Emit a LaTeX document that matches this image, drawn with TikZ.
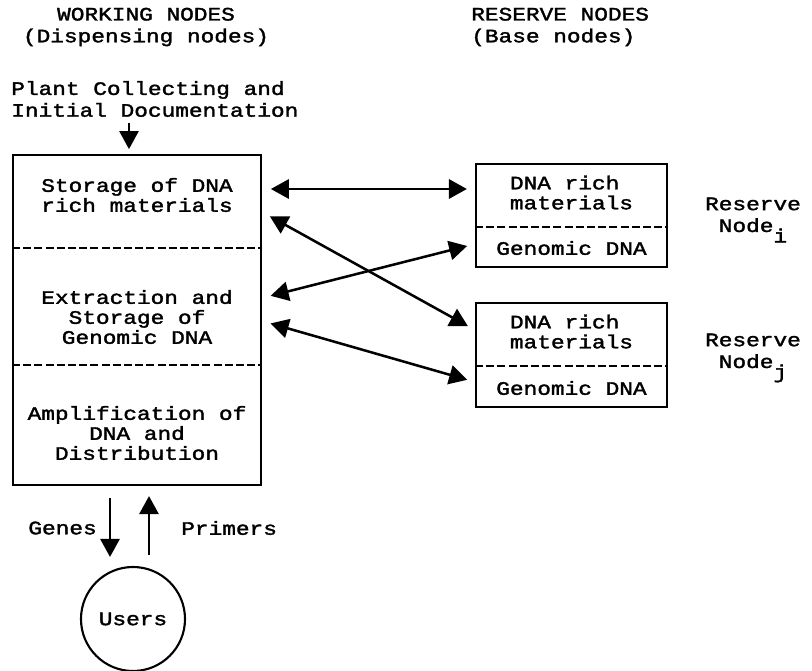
\documentclass[tikz,border=0pt]{standalone}
\usepackage{fontspec}
\setmainfont[FakeStretch=1.2, FakeBold=1.8]{Liberation Mono}
\usetikzlibrary{arrows.meta}

\begin{document}
\begin{tikzpicture}[x=0.025cm, y=-0.025cm, every node/.style={font=\fontsize{13.5}{15.5}\selectfont}]
    % Styles
    \tikzstyle{box} = [rectangle, draw=black, line width=1.5pt]
    \tikzstyle{cell} = [align=center, inner sep=0pt, font=\fontsize{13.5}{14.2}\selectfont]
    \tikzstyle{sep} = [line width=1.1pt, dash pattern=on 0.2cm off 0.08cm]
    \tikzstyle{arrow} = [-{Triangle[length=0.45cm, width=0.48cm]}, line width=1.6pt]
    \tikzstyle{both} = [{Triangle[length=0.45cm, width=0.48cm]}-{Triangle[length=0.45cm, width=0.48cm]}, line width=1.8pt, shorten <=0.22cm, shorten >=0.2cm]

    \useasboundingbox (0,0) rectangle (812,671);

    % Headings
    \node[align=center, inner sep=0pt] (work) at (146,27) {WORKING NODES\\(Dispensing nodes)};
    \node[align=left, anchor=west, inner sep=0pt] (res) at (471,27) {RESERVE NODES\\(Base nodes)};
    \node[align=left, anchor=west, inner sep=0pt] (plant) at (11,99) {Plant Collecting and\\Initial Documentation};

    % Working node
    \node[box, minimum width=6.2cm, minimum height=8.25cm] (main) at (137,320) {};
    \node[cell] (stor) at (137,195) {Storage of DNA\\rich materials};
    \node[cell] (extr) at (137,317) {Extraction and\\Storage of\\Genomic DNA};
    \node[cell] (ampl) at (137,433) {Amplification of\\DNA and\\Distribution};
    \draw[sep] (main.west |- 0,248) -- (main.east |- 0,248);
    \draw[sep] (main.west |- 0,365) -- (main.east |- 0,365);

    % Reserve nodes
    \node[box, minimum width=4.775cm, minimum height=2.575cm] (resi) at (571.5,215.5) {};
    \node[cell, align=left] (resitop) at (571.5,192.5) {DNA rich\\materials};
    \node[cell] (resigen) at (571.5,248) {Genomic DNA};
    \draw[sep] (resi.west |- 0,227) -- (resi.east |- 0,227);
    \node[box, minimum width=4.775cm, minimum height=2.6cm] (resj) at (571.5,355) {};
    \node[cell, align=left] (resjtop) at (571.5,331.5) {DNA rich\\materials};
    \node[cell] (resjgen) at (571.5,388) {Genomic DNA};
    \draw[sep] (resj.west |- 0,366) -- (resj.east |- 0,366);

    \node[align=center, inner sep=0pt] (labi) at (753,220) {Reserve\\Node\raisebox{-0.55em}{i}};
    \node[align=center, inner sep=0pt] (labj) at (753,358) {Reserve\\Node\raisebox{-0.55em}{j}};

    % Users
    \node[circle, draw, line width=1.5pt, minimum size=2.6cm, inner sep=0pt] (users) at (133,619) {Users};

    % Arrows
    \coordinate (inp) at ([xshift=-0.2cm]main.north);
    \draw[arrow, line width=1.3pt, shorten <=0.15cm, shorten >=0.12cm] (inp |- plant.south) -- (inp);
    \draw[both] (main.east |- 0,189) -- (resi.west |- 0,189);
    \draw[both] (main.east |- 0,212) -- (resj.west |- 0,330);
    \draw[both] (main.east |- 0,298) -- (resi.west |- 0,244);
    \draw[both] (main.east |- 0,321) -- (resj.west |- 0,382);

    \coordinate (gen) at ([xshift=-0.675cm]main.south);
    \coordinate (pri) at ([xshift=0.3cm]main.south);
    \draw[arrow, shorten <=0.3cm, shorten >=0.225cm] (gen) -- (gen |- users.north);
    \draw[arrow, shorten <=0.275cm, shorten >=0.25cm] (pri |- users.north) -- (pri);
    \node[anchor=east, inner sep=0pt] (genes) at (97,528) {Genes};
    \node[anchor=west, inner sep=0pt] (primers) at (181,528) {Primers};
\end{tikzpicture}
\end{document}
